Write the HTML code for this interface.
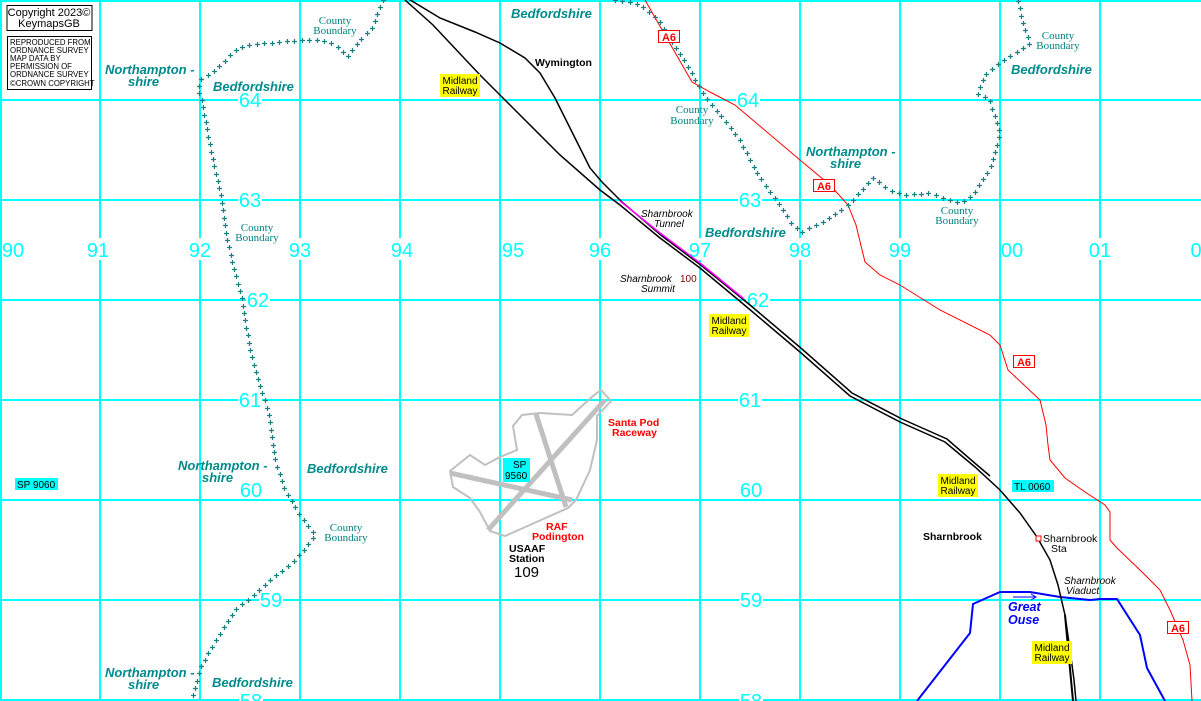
<!DOCTYPE html>
<html><head><meta charset="utf-8">
<style>
html,body{margin:0;padding:0;background:#fff;}
svg{display:block;}
.g{fill:#00ffff;font-family:"Liberation Sans",sans-serif;font-size:20px;}
.cn{fill:#008b8b;font-family:"Liberation Sans",sans-serif;font-size:13px;font-weight:bold;font-style:italic;}
.cb{fill:#008080;font-family:"Liberation Serif",serif;font-size:11px;}
.mr{font-family:"Liberation Sans",sans-serif;font-size:10px;fill:#000;}
.a6{font-family:"Liberation Sans",sans-serif;font-size:11px;font-weight:bold;fill:#f00;}
.it{font-family:"Liberation Sans",sans-serif;font-size:10px;font-style:italic;fill:#000;}
</style></head><body>
<svg id="s" width="1201" height="701" xmlns="http://www.w3.org/2000/svg">
<rect width="1201" height="701" fill="#fff"/>
<g stroke="#00ffff" stroke-width="2">
<line x1="1" y1="0" x2="1" y2="701"/><line x1="100" y1="0" x2="100" y2="701"/><line x1="200" y1="0" x2="200" y2="701"/><line x1="300" y1="0" x2="300" y2="701"/><line x1="400" y1="0" x2="400" y2="701"/><line x1="500" y1="0" x2="500" y2="701"/><line x1="600" y1="0" x2="600" y2="701"/><line x1="700" y1="0" x2="700" y2="701"/><line x1="800" y1="0" x2="800" y2="701"/><line x1="900" y1="0" x2="900" y2="701"/><line x1="1000" y1="0" x2="1000" y2="701"/><line x1="1100" y1="0" x2="1100" y2="701"/>
<line x1="0" y1="1" x2="1201" y2="1"/><line x1="0" y1="100" x2="1201" y2="100"/><line x1="0" y1="200" x2="1201" y2="200"/><line x1="0" y1="300" x2="1201" y2="300"/><line x1="0" y1="400" x2="1201" y2="400"/><line x1="0" y1="500" x2="1201" y2="500"/><line x1="0" y1="600" x2="1201" y2="600"/><line x1="0" y1="700" x2="1201" y2="700"/>
</g>
<g fill="#fff">
<rect x="2" y="238" width="22" height="22"/><rect x="87" y="238" width="22" height="22"/><rect x="189" y="238" width="22" height="22"/><rect x="289" y="238" width="22" height="22"/><rect x="391" y="238" width="22" height="22"/><rect x="502" y="238" width="22" height="22"/><rect x="589" y="238" width="22" height="22"/><rect x="689" y="238" width="22" height="22"/><rect x="789" y="238" width="22" height="22"/><rect x="889" y="238" width="22" height="22"/><rect x="1001" y="238" width="22" height="22"/><rect x="1089" y="238" width="22" height="22"/><rect x="1188" y="238" width="13" height="22"/>
<rect x="238" y="90" width="24" height="20"/><rect x="736" y="90" width="24" height="20"/>
<rect x="238" y="190" width="24" height="20"/><rect x="738" y="190" width="24" height="20"/>
<rect x="246" y="290" width="24" height="20"/><rect x="746" y="290" width="24" height="20"/>
<rect x="238" y="390" width="24" height="20"/><rect x="738" y="390" width="24" height="20"/>
<rect x="259" y="590" width="24" height="20"/><rect x="739" y="590" width="24" height="20"/>
<rect x="239" y="692" width="24" height="9"/><rect x="739" y="692" width="24" height="9"/>
</g>
<g class="g" text-anchor="middle">
<text x="13" y="257">90</text><text x="98" y="257">91</text><text x="200" y="257">92</text><text x="300" y="257">93</text><text x="402" y="257">94</text><text x="513" y="257">95</text><text x="600" y="257">96</text><text x="700" y="257">97</text><text x="800" y="257">98</text><text x="900" y="257">99</text><text x="1012" y="257">00</text><text x="1100" y="257">01</text><text x="1196" y="257">0</text>
<text x="250" y="107">64</text><text x="748" y="107">64</text>
<text x="250" y="207">63</text><text x="750" y="207">63</text>
<text x="258" y="307">62</text><text x="758" y="307">62</text>
<text x="250" y="407">61</text><text x="750" y="407">61</text>
<text x="251" y="497">60</text><text x="751" y="497">60</text>
<text x="271" y="607">59</text><text x="751" y="607">59</text>
<text x="251" y="708">58</text><text x="751" y="708">58</text>
</g>
<rect x="7" y="5.5" width="85" height="25" fill="#fff" stroke="#000"/>
<text x="49" y="16" text-anchor="middle" font-family="Liberation Sans,sans-serif" font-size="11">Copyright 2023©</text>
<text x="49" y="27" text-anchor="middle" font-family="Liberation Sans,sans-serif" font-size="11">KeymapsGB</text>
<rect x="7.5" y="36.5" width="84" height="53" fill="#fff" stroke="#000"/>
<g font-family="Liberation Sans,sans-serif" font-size="7.8"><text x="10" y="45">REPRODUCED FROM</text><text x="10" y="53">ORDNANCE SURVEY</text><text x="10" y="61">MAP DATA BY</text><text x="10" y="69">PERMISSION OF</text><text x="10" y="77">ORDNANCE SURVEY</text><text x="10" y="86">©CROWN COPYRIGHT</text></g>
<polyline fill="none" stroke="#f00" stroke-width="1" points="645,0 665,35 692,82 710,92 735,105 800,160 830,185 848,205 856,225 865,262 880,275 900,285 940,310 990,335 1000,345 1008,370 1040,400 1046,425 1048,445 1050,460 1065,478 1085,492 1105,505 1110,512 1110,540 1117,548 1142,572 1160,590 1170,610 1183,640 1190,665 1192,701"/>
<polyline fill="none" stroke="#0000ff" stroke-width="2" points="917,701 970,633 973,604 1000,592 1030,592 1060,597 1090,600 1100,599 1117,599 1140,635 1147,668 1165,701"/>
<line x1="1013" y1="597" x2="1035" y2="597" stroke="#0000ff" stroke-width="1"/><path d="M1031,594 L1036,597 L1031,600" fill="none" stroke="#0000ff"/>
<g fill="none" stroke="#000" stroke-width="1.5">
<polyline points="405,0 433,25 480,75 560,155 600,190 620,205 660,238 700,268 748,308 800,352 850,396 900,422 945,442 975,467 1000,490 1020,513 1037,537 1050,560 1058,585 1065,615 1070,650 1074,680 1076,701"/>
<polyline points="407,-2 440,18 475,32 500,43 525,58 540,73 555,98 570,128 590,168 602,182 622,202 662,236 702,266 750,305 802,349 852,393 902,419 947,439 977,465 990,476"/>
</g>
<polyline fill="none" stroke="#ff00ff" stroke-width="1.5" points="620,201 660,233 700,263 744,299"/>
<line x1="1065" y1="615" x2="1073" y2="701" stroke="#000" stroke-width="2"/>
<rect x="1036" y="536" width="5" height="5" fill="#fff" stroke="#f00"/>
<polygon fill="none" stroke="#c0c0c0" stroke-width="2" points="601,390 611,401 597,416 597,440 590,470 576,500 568,508 505,536 490,531 480,512 470,498 453,487 450,471 470,455 485,465 500,457 517,450 513,426 522,415 540,413 572,415 593,396"/>
<g stroke="#c0c0c0" stroke-width="5"><line x1="605" y1="400" x2="488" y2="530"/><line x1="450" y1="473" x2="572" y2="500"/><line x1="536" y1="414" x2="566" y2="507"/></g>
<g id="plus" stroke="#1a8080" stroke-width="1.2"></g>
<g class="cn">
<text x="105" y="74">Northampton -</text><text x="128" y="86">shire</text>
<text x="213" y="91">Bedfordshire</text>
<text x="511" y="18">Bedfordshire</text>
<text x="1011" y="74">Bedfordshire</text>
<text x="806" y="156">Northampton -</text><text x="830" y="168">shire</text>
<text x="705" y="237">Bedfordshire</text>
<text x="178" y="470">Northampton -</text><text x="202" y="482">shire</text>
<text x="307" y="473">Bedfordshire</text>
<text x="105" y="677">Northampton -</text><text x="128" y="689">shire</text>
<text x="212" y="687">Bedfordshire</text>
</g>
<g class="cb" text-anchor="middle">
<text x="335" y="24">County</text><text x="335" y="34">Boundary</text>
<text x="257" y="231">County</text><text x="257" y="241">Boundary</text>
<text x="692" y="113">County</text><text x="692" y="124">Boundary</text>
<text x="1058" y="39">County</text><text x="1058" y="49">Boundary</text>
<text x="957" y="214">County</text><text x="957" y="224">Boundary</text>
<text x="346" y="531">County</text><text x="346" y="541">Boundary</text>
</g>
<g fill="#ffff00"><rect x="440" y="74" width="40" height="23"/><rect x="709" y="314" width="40" height="23"/><rect x="938" y="474" width="40" height="23"/><rect x="1032" y="641" width="40" height="23"/></g>
<g class="mr" text-anchor="middle">
<text x="460" y="84">Midland</text><text x="460" y="94">Railway</text>
<text x="729" y="324">Midland</text><text x="729" y="334">Railway</text>
<text x="958" y="484">Midland</text><text x="958" y="494">Railway</text>
<text x="1052" y="651">Midland</text><text x="1052" y="661">Railway</text>
</g>
<g fill="#fff" stroke="#f00"><rect x="658.5" y="30.5" width="21" height="12"/><rect x="813.5" y="179.5" width="21" height="12"/><rect x="1013.5" y="355.5" width="21" height="12"/><rect x="1167.5" y="621.5" width="21" height="12"/></g>
<g class="a6" text-anchor="middle"><text x="669" y="41">A6</text><text x="824" y="190">A6</text><text x="1024" y="366">A6</text><text x="1178" y="632">A6</text></g>
<g fill="#00ffff"><rect x="15" y="478" width="43" height="12"/><rect x="503" y="458" width="27" height="24"/><rect x="1012" y="480" width="42" height="12"/></g>
<g font-family="Liberation Sans,sans-serif" font-size="10" fill="#000">
<text x="17" y="488">SP 9060</text><text x="513" y="468">SP</text><text x="505" y="479">9560</text><text x="1014" y="490">TL 0060</text>
</g>
<g font-family="Liberation Sans,sans-serif" font-weight="bold" font-size="10.5">
<text x="535" y="66">Wymington</text>
<text x="923" y="540">Sharnbrook</text>
<text x="608" y="426" fill="#f00">Santa Pod</text><text x="612" y="436" fill="#f00">Raceway</text>
<text x="546" y="530" fill="#f00">RAF</text><text x="532" y="540" fill="#f00">Podington</text>
<text x="509" y="552">USAAF</text><text x="509" y="562">Station</text>
<text x="514" y="577" font-size="15" font-weight="normal">109</text>
</g>
<g font-family="Liberation Sans,sans-serif" font-size="10.5"><text x="1043" y="542">Sharnbrook</text><text x="1051" y="552">Sta</text></g>
<g class="it"><text x="641" y="217">Sharnbrook</text><text x="654" y="227">Tunnel</text>
<text x="620" y="282">Sharnbrook</text><text x="680" y="282" fill="#800000" font-style="normal">100</text><text x="641" y="292">Summit</text>
<text x="1064" y="584">Sharnbrook</text><text x="1066" y="594">Viaduct</text></g>
<g font-family="Liberation Sans,sans-serif" font-size="12.5" font-weight="bold" font-style="italic" fill="#0000ff"><text x="1008" y="611">Great</text><text x="1008" y="624">Ouse</text></g>
</svg>
<script>
(function(){
var lines=[
[[383,0],[378,12],[372,28],[360,40],[347,57],[336,45],[322,40],[300,40],[245,45],[236,50],[215,70],[200,80],[198,90],[202,100],[207,130],[215,170],[222,200],[225,230],[232,260],[242,300],[250,350],[258,380],[268,410],[275,460],[285,490],[300,515],[315,535],[305,548],[290,565],[270,580],[250,598],[235,610],[225,625],[210,650],[200,668],[191,701]],
[[615,0],[640,4],[660,22],[672,42],[690,70],[702,92],[720,115],[740,140],[758,175],[780,205],[790,222],[802,232],[830,218],[848,205],[873,178],[890,190],[905,195],[930,193],[955,202],[962,203],[975,192],[990,168],[1000,135],[990,100],[977,93],[985,75],[1000,62],[1020,50],[1030,43],[1025,30],[1020,10],[1018,0]]
];
var g=document.getElementById('plus'),d='';
lines.forEach(function(p){var carry=0;for(var i=1;i<p.length;i++){var a=p[i-1],b=p[i],dx=b[0]-a[0],dy=b[1]-a[1],L=Math.sqrt(dx*dx+dy*dy),t=carry;while(t<=L){var x=a[0]+dx*t/L,y=a[1]+dy*t/L;x=Math.round(x)+0.5;y=Math.round(y)+0.5;d+='M'+(x-2.5)+','+y+'h5M'+x+','+(y-2.5)+'v5';t+=7.5;}carry=t-L;}});
var e=document.createElementNS('http://www.w3.org/2000/svg','path');e.setAttribute('d',d);e.setAttribute('fill','none');g.appendChild(e);
})();
</script>
</body></html>
